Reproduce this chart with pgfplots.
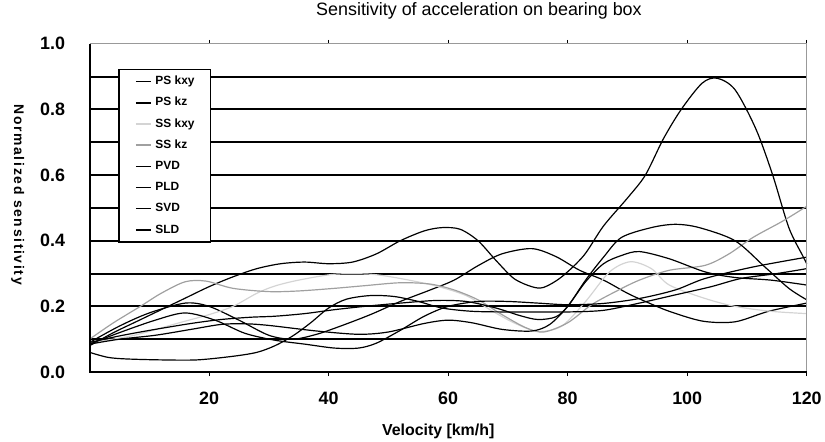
\documentclass[border=0pt]{standalone}
\usepackage{fontspec}
\setmainfont{Liberation Sans}
\newfontfamily\ylabfont[LetterSpace=12]{Liberation Sans}
\usepackage{pgfplots}
\pgfplotsset{compat=1.18}
\definecolor{lgray}{HTML}{D4D4D4}
\definecolor{mgray}{HTML}{A0A0A0}
\begin{document}
\begin{tikzpicture}
\begin{axis}[
  name=ax,
  scale only axis, width=721pt, height=330pt,
  xmin=0, xmax=120, ymin=0, ymax=1,
  clip=false,
  axis line style={draw=none},
  xtick={20,40,...,120},
  ytick={0,0.2,0.4,0.6,0.8,1.0},
  yticklabels={0.0,0.2,0.4,0.6,0.8,1.0},
  /pgf/number format/assume math mode=true,
  tick align=outside,
  major tick length=4pt,
  xtick style={black, line width=1pt},
  ytick style={draw=none},
  x tick label style={font=\fontsize{18}{20}\selectfont\bfseries, yshift=-13pt},
  y tick label style={font=\fontsize{18}{20}\selectfont\bfseries, xshift=-17pt},
  extra y ticks={0.1,0.2,0.3,0.4,0.5,0.6,0.7,0.8,0.9},
  extra y tick labels={},
  extra y tick style={grid=major, major grid style={black, line width=2pt}, tick style={draw=none}},
  title={Sensitivity of acceleration on bearing box},
  title style={at={(axis description cs:0.5,1)}, anchor=base, yshift=22pt, xshift=31pt, inner sep=0pt, font=\fontsize{18}{20}\selectfont},
  xlabel={Velocity [km/h]},
  xlabel style={at={(axis description cs:0.5,0)}, anchor=base, yshift=-64pt, xshift=-10pt, inner sep=0pt, font=\fontsize{16}{18}\selectfont\bfseries},
  ylabel={\ylabfont\bfseries Normalized sensitivity},
  ylabel style={at={(axis description cs:-0.1,0.54)}, anchor=center, rotate=180, inner sep=0pt, font=\fontsize{14}{16}\selectfont},
  legend cell align=left,
  legend image code/.code={\draw[#1, line width=1.5pt] (0pt,0pt) -- (15pt,0pt);},
  legend style={at={(axis description cs:0,1)}, anchor=north west, xshift=29pt, yshift=-25pt,
    draw=black, line width=1.5pt, fill=white,
    font=\fontsize{12}{14}\selectfont\bfseries,
    inner xsep=16pt, inner ysep=7pt, row sep=10.8pt, column sep=4pt,
    nodes={inner sep=0pt, text height=8.5pt, text depth=2pt}},
]
% PS kxy (big peak)
\addplot[black, line width=1.2pt, smooth] coordinates {
(0,0.08) (4,0.12) (8,0.155) (12,0.19) (16,0.225) (20,0.26) (24,0.29) (28,0.315) (32,0.33) (36,0.335) (40,0.33) (44,0.335) (48,0.36) (52,0.40) (56,0.43) (59,0.44) (62,0.435) (65,0.40) (68,0.34) (71,0.285) (74,0.26) (76,0.258) (79,0.29) (82.7,0.355) (86,0.445) (90,0.53) (93,0.60) (96,0.71) (99,0.80) (102.5,0.88) (105,0.895) (108,0.86) (111.5,0.74) (114.3,0.60) (117,0.44) (119.3,0.355) (120,0.33)};
\addlegendentry{PS kxy}
% PS kz
\addplot[black, line width=1.2pt, smooth] coordinates {
(0,0.09) (5,0.14) (10,0.18) (16,0.21) (20,0.2) (25,0.158) (30,0.112) (34,0.1) (38,0.115) (42,0.14) (47,0.175) (52,0.215) (57,0.25) (61,0.28) (65,0.324) (69,0.36) (74,0.376) (78,0.352) (82,0.31) (86,0.28) (90,0.24) (93,0.215) (97,0.185) (102.6,0.155) (108,0.153) (113.6,0.185) (120,0.21)};
\addlegendentry{PS kz}
% SS kxy
\addplot[lgray, line width=1.2pt, smooth] coordinates {
(0,0.09) (7,0.11) (15,0.15) (20,0.175) (24,0.2) (28,0.24) (31,0.262) (35,0.28) (41,0.298) (47,0.298) (52,0.285) (58,0.262) (63,0.233) (67,0.19) (71,0.15) (75,0.124) (79,0.14) (83,0.215) (87,0.305) (90.5,0.336) (94,0.315) (97,0.265) (103,0.224) (108,0.2) (114,0.185) (120,0.178)};
\addlegendentry{SS kxy}
% SS kz
\addplot[mgray, line width=1.2pt, smooth] coordinates {
(0,0.1) (4,0.15) (8.5,0.2) (12,0.24) (16,0.275) (19.5,0.277) (24,0.255) (30,0.245) (35,0.247) (41,0.255) (46,0.263) (52,0.272) (57,0.268) (61,0.25) (65,0.22) (69,0.175) (73,0.135) (76,0.122) (80,0.15) (84,0.205) (88,0.245) (92,0.28) (97,0.31) (103,0.325) (107,0.36) (111,0.41) (116,0.46) (120,0.505)};
\addlegendentry{SS kz}
% PVD
\addplot[black, line width=1.2pt, smooth] coordinates {
(0,0.085) (5,0.1) (11,0.112) (17,0.13) (22,0.145) (26,0.147) (30,0.142) (38,0.125) (45,0.115) (50,0.122) (56,0.148) (60,0.158) (64,0.15) (69,0.13) (74,0.125) (77,0.145) (80,0.2) (83,0.28) (86,0.35) (89,0.41) (94,0.44) (98,0.45) (102,0.44) (108,0.40) (113,0.32) (117,0.255) (120,0.22)};
\addlegendentry{PVD}
% PLD
\addplot[black, line width=1.2pt, smooth] coordinates {
(0,0.09) (5,0.11) (11,0.13) (17,0.148) (22,0.16) (27,0.167) (31,0.17) (36,0.178) (41,0.19) (46,0.2) (52,0.21) (58,0.218) (63,0.215) (68,0.195) (72,0.172) (75,0.16) (78,0.168) (80,0.2) (83,0.275) (86,0.33) (89,0.355) (92,0.367) (97,0.345) (103,0.305) (108,0.288) (114,0.28) (120,0.265)};
\addlegendentry{PLD}
% SVD
\addplot[black, line width=1.2pt, smooth] coordinates {
(0,0.085) (5,0.12) (11,0.158) (16,0.18) (21,0.158) (26,0.118) (31,0.097) (36,0.085) (41,0.073) (45,0.073) (48,0.088) (52,0.127) (56,0.17) (60,0.2) (65,0.215) (70,0.215) (75,0.21) (80,0.205) (86,0.209) (92,0.224) (98,0.25) (103,0.285) (111,0.32) (120,0.35)};
\addlegendentry{SVD}
% SLD
\addplot[black, line width=1.2pt, smooth] coordinates {
(0,0.06) (3,0.045) (6,0.04) (12,0.037) (18,0.037) (24,0.048) (28,0.06) (31,0.08) (34,0.11) (37,0.15) (40,0.195) (43,0.222) (47,0.233) (51,0.23) (55,0.215) (59,0.195) (64,0.185) (70,0.183) (75,0.183) (80,0.183) (86,0.188) (92,0.21) (98,0.235) (104,0.26) (109,0.285) (115,0.3) (120,0.315)};
\addlegendentry{SLD}
\draw[color=gray!80, line width=1pt] (rel axis cs:0,1) -- (rel axis cs:1,1) -- (rel axis cs:1,0);
\draw[black, line width=2pt] (rel axis cs:0,1) -- (rel axis cs:0,0) -- (rel axis cs:1,0);
\end{axis}
\path ([shift={(-90pt,-70pt)}]ax.south west) rectangle ([shift={(14pt,44pt)}]ax.north east);
\end{tikzpicture}
\end{document}
